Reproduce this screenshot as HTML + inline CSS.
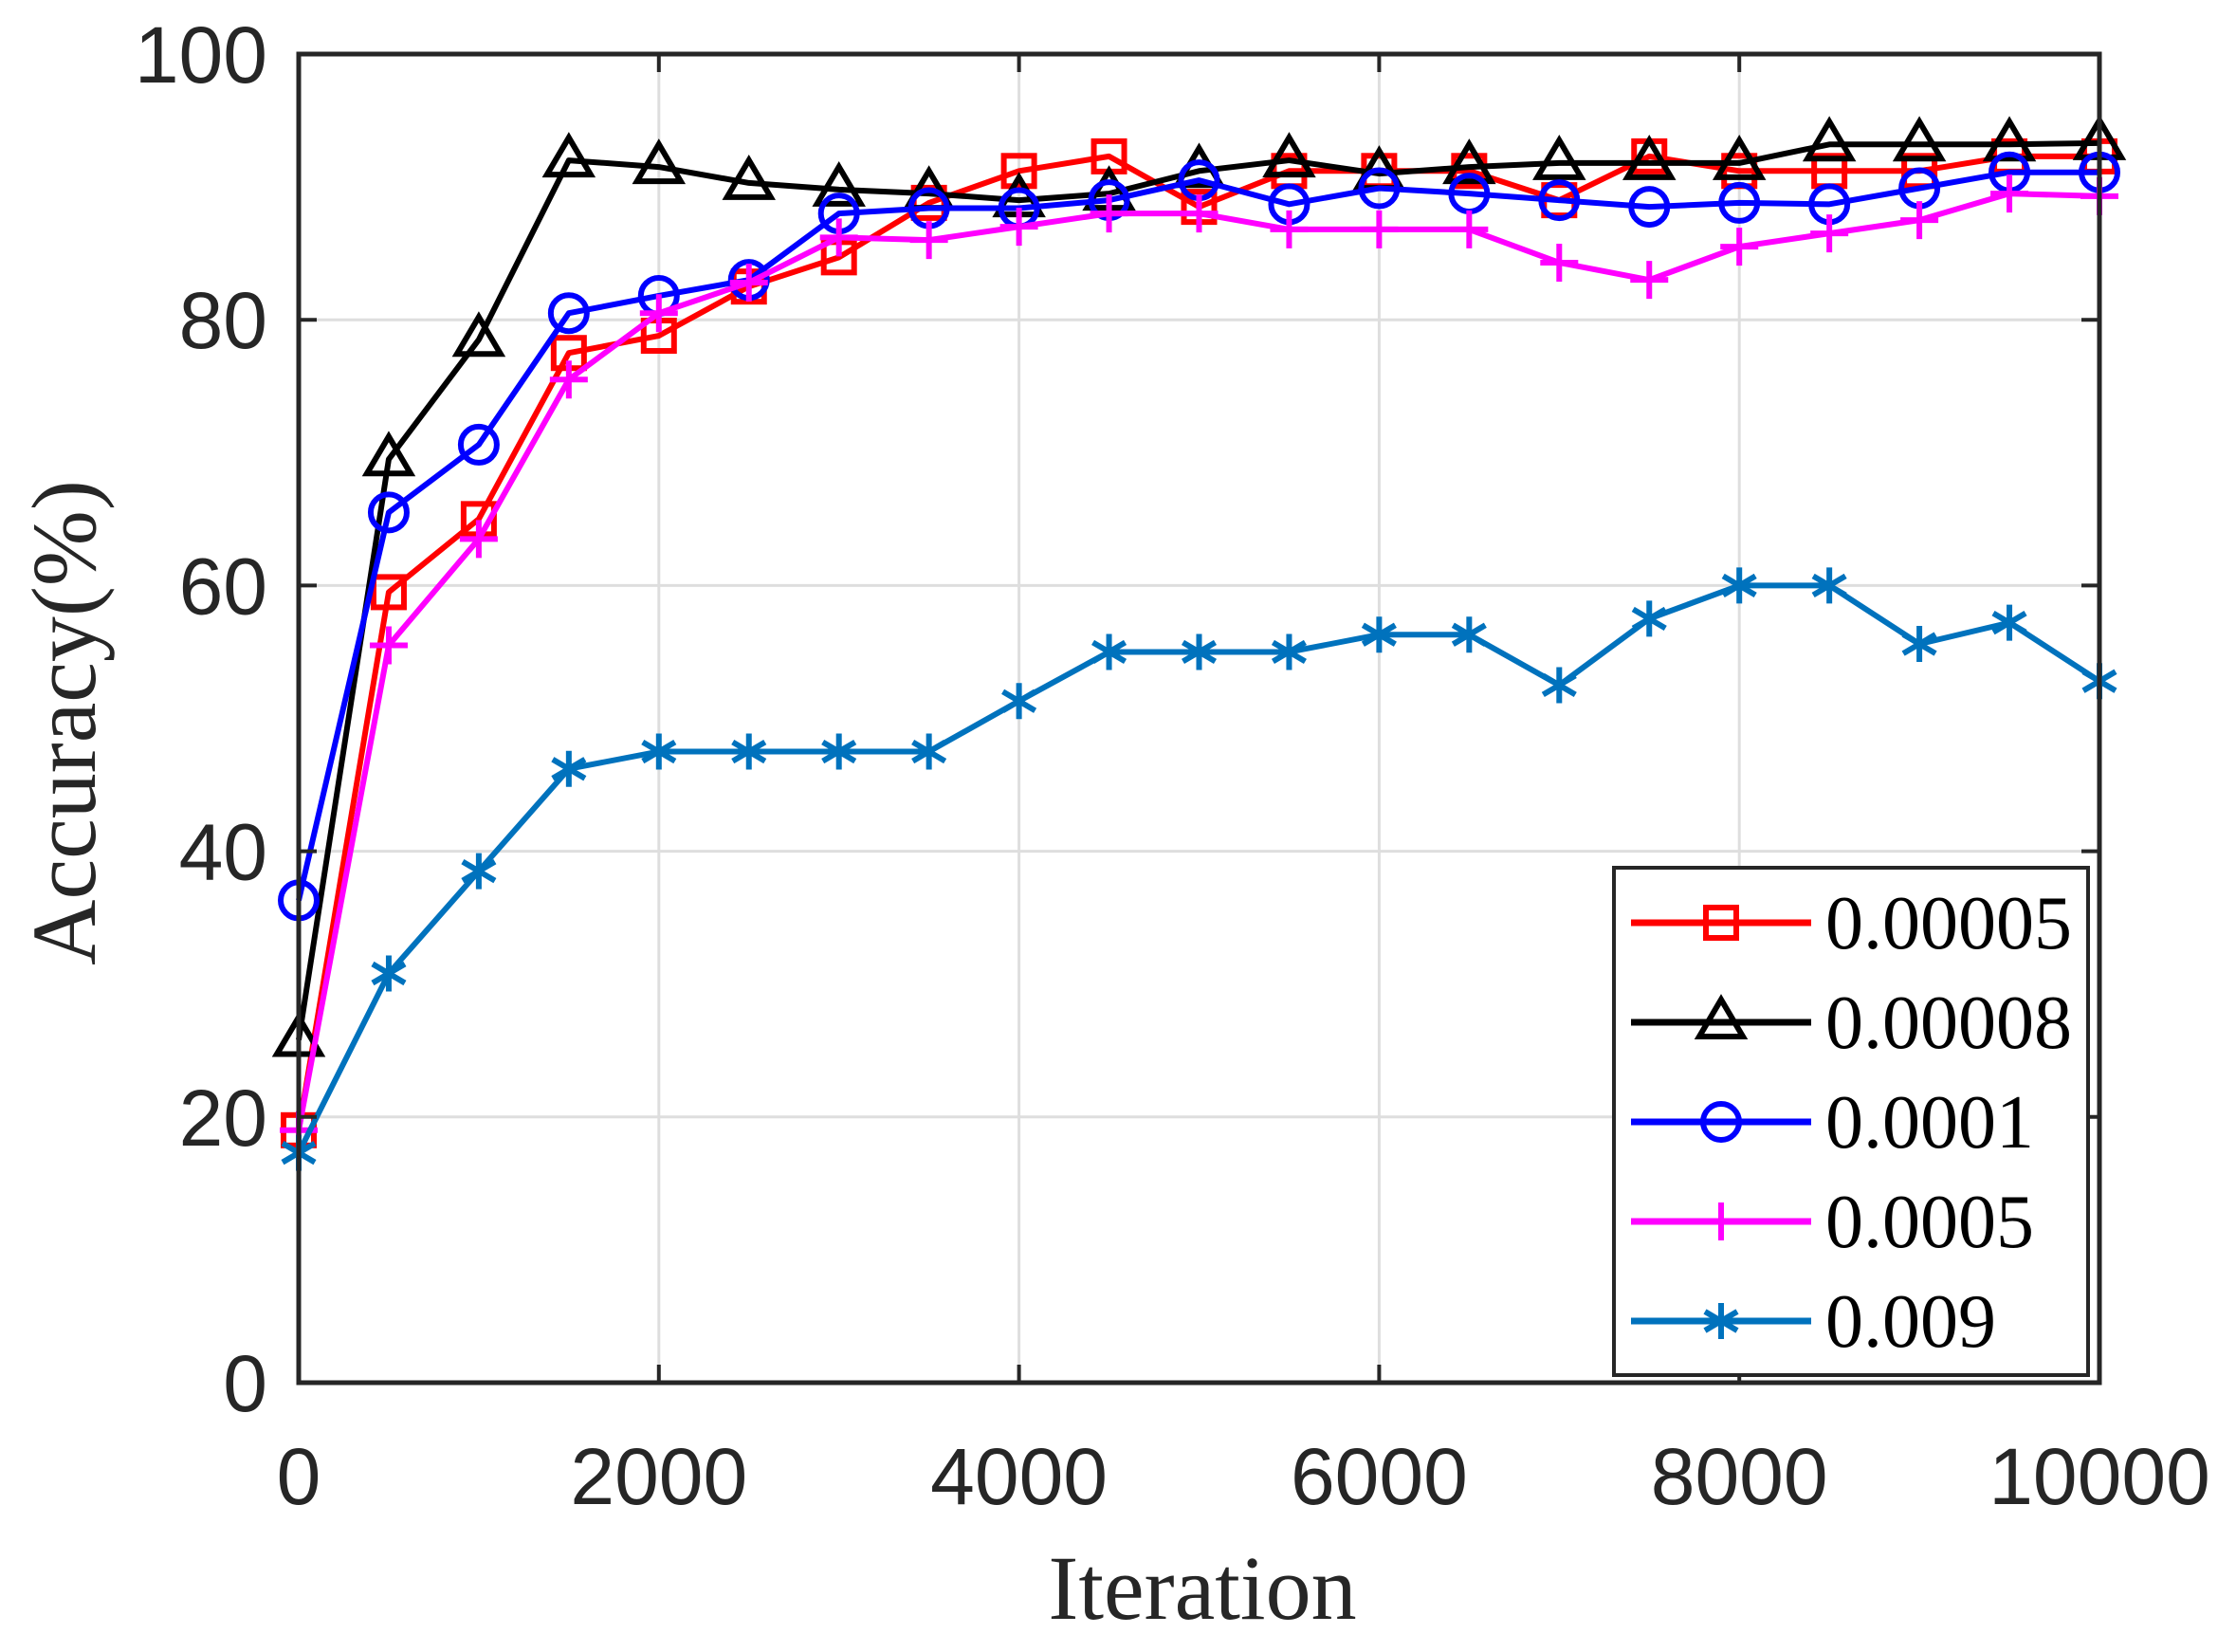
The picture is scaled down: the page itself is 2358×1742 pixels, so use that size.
<!DOCTYPE html>
<html><head><meta charset="utf-8"><style>
html,body{margin:0;padding:0;background:#fff;}
svg{display:block;}
</style></head><body>
<svg id="s" width="2358" height="1742" xmlns="http://www.w3.org/2000/svg">
<rect width="2358" height="1742" fill="#fff"/>
<g id="grid" stroke="#dedede" stroke-width="3"></g>
<g id="series"></g>
<g id="axes"></g>
<g font-family="Liberation Sans, Arial, sans-serif" font-size="84" fill="#262626" id="ticks"></g>
<text x="1268" y="1707" font-family="Liberation Serif, serif" font-size="96" text-anchor="middle" fill="#262626">Iteration</text>
<text transform="translate(100,762) rotate(-90)" font-family="Liberation Serif, serif" font-size="96" text-anchor="middle" fill="#262626">Accuracy(%)</text>
<g id="legend"></g>
</svg>
<script>
const L=315,R=2214,T=57,B=1458;
const X=v=>L+(R-L)*v/10000, Y=v=>B-(B-T)*v/100;
const NS="http://www.w3.org/2000/svg";
function el(p,tag,a,txt){const e=document.createElementNS(NS,tag);for(const k in a)e.setAttribute(k,a[k]);if(txt!=null)e.textContent=txt;p.appendChild(e);return e;}
const grid=document.getElementById('grid'),axes=document.getElementById('axes'),ticks=document.getElementById('ticks');
for(let i=1;i<5;i++){el(grid,'line',{x1:X(i*2000),x2:X(i*2000),y1:T,y2:B});}
for(let i=1;i<5;i++){el(grid,'line',{x1:L,x2:R,y1:Y(i*20),y2:Y(i*20)});}
el(axes,'rect',{x:L,y:T,width:R-L,height:B-T,fill:'none',stroke:'#262626','stroke-width':5});
for(let i=0;i<=5;i++){const x=X(i*2000),y=Y(i*20);
 el(axes,'line',{x1:x,x2:x,y1:B,y2:B-19,stroke:'#262626','stroke-width':4});
 el(axes,'line',{x1:x,x2:x,y1:T,y2:T+19,stroke:'#262626','stroke-width':4});
 el(axes,'line',{x1:L,x2:L+19,y1:y,y2:y,stroke:'#262626','stroke-width':4});
 el(axes,'line',{x1:R,x2:R-19,y1:y,y2:y,stroke:'#262626','stroke-width':4});
 el(ticks,'text',{x:x,y:1586,'text-anchor':'middle'},String(i*2000));
 el(ticks,'text',{x:282,y:y+30,'text-anchor':'end'},String(i*20));
}
const data=[
 ['#ff0000','sq','0.00005',[19,59.5,65,77.5,78.8,82.5,84.7,88.8,91.2,92.3,88.5,91.2,91.2,91.2,89,92.3,91.2,91.2,91.2,92.3,92.3]],
 ['#000000','tri','0.00008',[25.8,69.5,78.5,92,91.5,90.3,89.8,89.5,89,89.5,91.2,92,91,91.5,91.8,91.8,91.8,93.2,93.2,93.2,93.3]],
 ['#0000ff','circ','0.0001',[36.3,65.5,70.6,80.5,81.8,83,88,88.4,88.4,89,90.5,88.7,89.9,89.5,89,88.5,88.8,88.7,89.9,91.1,91.1]],
 ['#ff00ff','plus','0.0005',[19,55.5,63.5,75.5,80.5,82.8,86.2,86,87,88,88,86.8,86.8,86.8,84.3,83,85.5,86.5,87.5,89.5,89.3]],
 ['#0072bd','star','0.009',[17.3,30.8,38.5,46.2,47.5,47.5,47.5,47.5,51.3,55,55,55,56.3,56.3,52.5,57.5,60,60,55.6,57.2,52.8]]
];
function marker(g,t,x,y,c){
 const sw=6;
 if(t=='sq')el(g,'rect',{x:x-16,y:y-16,width:32,height:32,fill:'none',stroke:c,'stroke-width':sw});
 if(t=='tri')el(g,'polygon',{points:`${x},${y-24} ${x-23},${y+15} ${x+23},${y+15}`,fill:'none',stroke:c,'stroke-width':sw});
 if(t=='circ')el(g,'circle',{cx:x,cy:y,r:19,fill:'none',stroke:c,'stroke-width':sw});
 if(t=='plus'){el(g,'path',{d:`M${x-20},${y}H${x+20}M${x},${y-20}V${y+20}`,stroke:c,'stroke-width':sw});}
 if(t=='star'){el(g,'path',{d:`M${x},${y-19}V${y+19}M${x-17},${y-10}L${x+17},${y+10}M${x-17},${y+10}L${x+17},${y-10}`,stroke:c,'stroke-width':sw});}
}
const S=document.getElementById('series');
data.forEach(d=>{const pts=d[3].map((v,i)=>[X(i*500),Y(v)]);
 el(S,'polyline',{points:pts.map(p=>p.join(',')).join(' '),fill:'none',stroke:d[0],'stroke-width':6,'stroke-linejoin':'round'});
 pts.forEach(p=>marker(S,d[1],p[0],p[1],d[0]));});
const LG=document.getElementById('legend');
el(LG,'rect',{x:1702,y:915,width:500,height:535,fill:'#fff',stroke:'#262626','stroke-width':4});
data.forEach((d,i)=>{const y=973+i*105;
 el(LG,'line',{x1:1720,x2:1910,y1:y,y2:y,stroke:d[0],'stroke-width':7});
 marker(LG,d[1],1815,y,d[0]);
 el(LG,'text',{x:1925,y:y+27,'font-family':'Liberation Serif, serif','font-size':80,fill:'#000'},d[2]);});
</script>
</body></html>
